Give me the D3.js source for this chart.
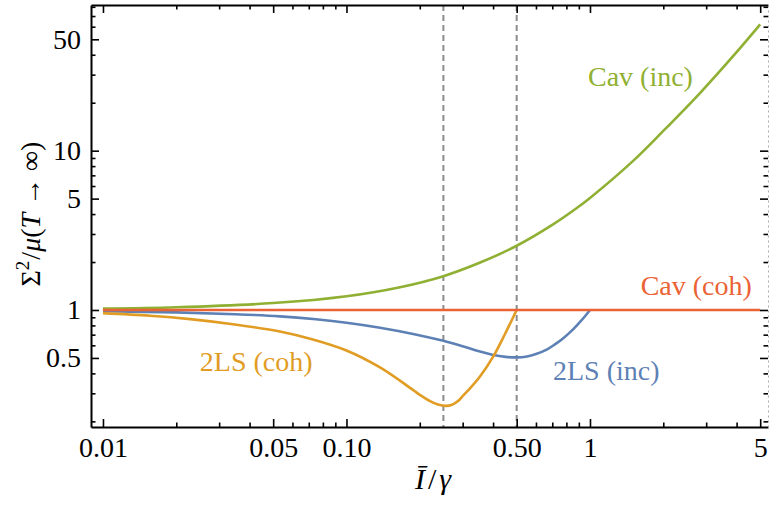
<!DOCTYPE html>
<html>
<head>
<meta charset="utf-8">
<script src="https://cdn.jsdelivr.net/npm/d3@7"></script>
<style>
body{margin:0;background:#fff}
svg text{font-family:"Liberation Serif","Times New Roman",serif}
.tick text{font-size:28px;fill:#000}
.tick line{stroke:#000;stroke-width:1.6}
.frame .domain{stroke:#000;stroke-width:2}
.rightAxis .domain{stroke:#aaa;stroke-width:1;stroke-dasharray:2,3}
.curve{fill:none;stroke-width:2.6}
.guide{stroke:#8c8c8c;stroke-width:2;stroke-dasharray:6,4}
.label{font-size:28px}
</style>
</head>
<body>
<div id="chart"></div>
<script>
const width = 771
const height = 506

const margin = {
    top:5,
    bottom:79,
    left:91,
    right:3
}

// ticks
const xTicksMajor = [0.01,0.05,0.1,0.5,1,5]
const xTickLabels = ["0.01","0.05","0.10","0.50","1","5"]
const xTicksMinor = [0.02,0.03,0.04,0.06,0.07,0.08,0.09,0.2,0.3,0.4,0.6,0.7,0.8,0.9,2,3,4]
const yTicksMajor = [0.5,1,5,10,50]
const yTickLabels = ["0.5","1","5","10","50"]
const yTicksMinor = [0.2,0.3,0.4,0.6,0.7,0.8,0.9,2,3,4,6,7,8,9,20,30,40,60,70,80]
const guideLines = [0.25,0.5]

// series
const twoLsIncX = [0.01,0.02,0.035,0.0533,0.0749,0.1,0.1373,0.19,0.25,0.3,0.3534,0.4008,0.45,0.5,0.551,0.6,0.664,0.72,0.777,0.85,0.91,0.954,1]
const twoLsIncY = [0.981,0.966,0.941,0.912,0.874,0.832,0.774,0.705,0.64,0.592,0.549,0.522,0.508,0.504,0.511,0.529,0.564,0.61,0.665,0.753,0.841,0.913,1]

const twoLsCohX = [0.01,0.0156,0.0228,0.0348,0.0533,0.0728,0.1,0.1373,0.1875,0.2003,0.2203,0.2375,0.2562,0.2713,0.287,0.3018,0.3215,0.3534,0.4008,0.4477,0.5]
const twoLsCohY = [0.955,0.92,0.876,0.811,0.733,0.653,0.557,0.436,0.315,0.293,0.268,0.255,0.25,0.254,0.268,0.291,0.322,0.382,0.511,0.707,1]

const cavIncX = [0.01,0.02,0.05,0.1,0.166,0.25,0.35,0.5,0.7,0.88,1,1.5,2,2.83,4,5]
const cavIncY = [1.02,1.04,1.105,1.22,1.39,1.63,1.97,2.53,3.42,4.35,5.05,8.6,13.3,23,41.5,62]

const cavCohX = [0.01,5]
const cavCohY = [1,1]

const colors = {
    twoLsInc:"#5E81B5",
    twoLsCoh:"#E19C24",
    cavInc:"#8FB032",
    cavCoh:"#EB6235"
}

const series = [
    {name:"2LS (inc)", key:"twoLsInc", xs:twoLsIncX, ys:twoLsIncY, lx:0.705, ly:0.361},
    {name:"2LS (coh)", key:"twoLsCoh", xs:twoLsCohX, ys:twoLsCohY, lx:0.025, ly:0.417},
    {name:"Cav (inc)", key:"cavInc", xs:cavIncX, ys:cavIncY, lx:0.981, ly:25.5},
    {name:"Cav (coh)", key:"cavCoh", xs:cavCohX, ys:cavCohY, lx:1.615, ly:1.242}
]

const innerW = width - margin.left - margin.right
const innerH = height - margin.top - margin.bottom

const svg = d3.select("div#chart").append("svg").attr("width",width).attr("height",height)
const elementGroup = svg.append("g").attr("class","elementGroup").attr("transform",`translate(${margin.left},${margin.top})`)

const x = d3.scaleLog().domain([0.00893,5.383]).range([0,innerW])
const y = d3.scaleLog().domain([0.1843,82.1]).range([innerH,0])

// guides
elementGroup.selectAll("line.guide").data(guideLines).enter()
    .append("line").attr("class","guide")
    .attr("x1",d => x(d)).attr("x2",d => x(d))
    .attr("y1",0).attr("y2",innerH)

// curves
const line = d3.line().x(d => x(d[0])).y(d => y(d[1])).curve(d3.curveCatmullRom.alpha(0.5))
elementGroup.selectAll("path.curve").data(series).enter()
    .append("path").attr("class","curve")
    .attr("stroke",d => colors[d.key])
    .attr("d",d => line(d.xs.map((v,i) => [v,d.ys[i]])))

elementGroup.selectAll("text.label").data(series).enter()
    .append("text").attr("class","label")
    .attr("x",d => x(d.lx)).attr("y",d => y(d.ly))
    .attr("fill",d => colors[d.key])
    .text(d => d.name)

// axes (frame)
const axisGroup = svg.append("g").attr("class","axisGroup").attr("transform",`translate(${margin.left},${margin.top})`)

function addAxis(cls, axisFn, scale, major, labels, minor, pos, showLabels){
    const g = axisGroup.append("g").attr("class","frame " + cls).attr("transform",pos)
    const a = axisFn(scale).tickValues(major).tickSizeInner(-8).tickSizeOuter(0).tickPadding(10)
        .tickFormat((d,i) => showLabels ? labels[i] : "")
    g.call(a)
    const m = axisFn(scale).tickValues(minor).tickSizeInner(-4.5).tickSizeOuter(0).tickFormat("")
    const gm = axisGroup.append("g").attr("transform",pos).call(m)
    gm.select(".domain").remove()
    gm.selectAll(".tick line").attr("stroke","#000").attr("stroke-width",1.6)
    return g
}

addAxis("bottomAxis", d3.axisBottom, x, xTicksMajor, xTickLabels, xTicksMinor, `translate(0,${innerH})`, true)
addAxis("topAxis", d3.axisTop, x, xTicksMajor, xTickLabels, xTicksMinor, `translate(0,0)`, false)
addAxis("leftAxis", d3.axisLeft, y, yTicksMajor, yTickLabels, yTicksMinor, `translate(0,0)`, true)
addAxis("rightAxis", d3.axisRight, y, yTicksMajor, yTickLabels, yTicksMinor, `translate(${innerW},0)`, false)

axisGroup.selectAll(".tick text").attr("font-family",null)

// axis titles
const yTitle = svg.append("text").attr("class","label")
    .attr("transform",`translate(40,214) rotate(-90)`)
    .attr("text-anchor","middle")
yTitle.append("tspan").text("Σ")
yTitle.append("tspan").attr("font-size",19).attr("dy",-11).text("2")
yTitle.append("tspan").attr("dy",11).attr("dx",1).text("/")
yTitle.append("tspan").attr("font-style","italic").text("μ")
yTitle.append("tspan").text("(")
yTitle.append("tspan").attr("font-style","italic").text("T")
yTitle.append("tspan").attr("dx",7).text("→")
yTitle.append("tspan").attr("dx",7).text("∞)")

const xTitle = svg.append("text").attr("class","label")
    .attr("x",433).attr("y",489)
    .attr("text-anchor","middle")
    .style("font-size","30px")
xTitle.append("tspan").attr("font-style","italic").text("Ī")
xTitle.append("tspan").attr("dx",3).text("/")
xTitle.append("tspan").attr("dx",3).attr("font-style","italic").text("γ")
</script>
</body>
</html>
